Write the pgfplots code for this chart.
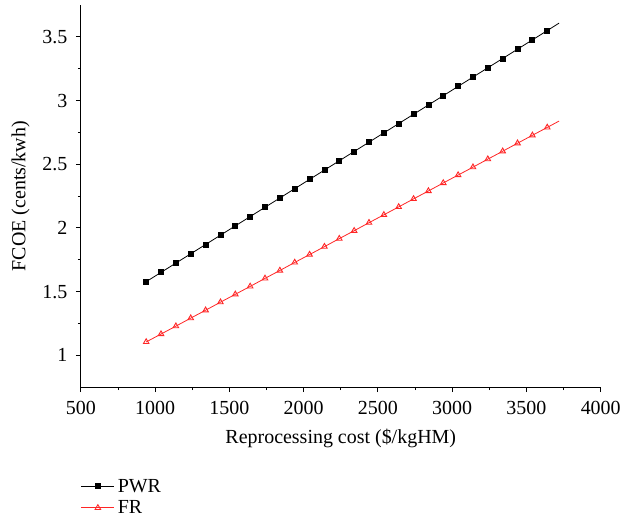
\documentclass[border=0pt]{standalone}
\usepackage{fontspec}
\setmainfont{Liberation Serif}
\usepackage{pgfplots}
\usepackage{pgfplotstable}
\pgfplotsset{compat=1.18}

% reprocessing cost vs FCOE
\pgfplotstableread{
x y
940 1.578
1040 1.651
1140 1.724
1240 1.797
1340 1.870
1440 1.943
1540 2.016
1640 2.089
1740 2.162
1840 2.235
1940 2.308
2040 2.381
2140 2.454
2240 2.527
2340 2.600
2440 2.673
2540 2.746
2640 2.819
2740 2.892
2840 2.965
2940 3.038
3040 3.111
3140 3.184
3240 3.257
3340 3.330
3440 3.403
3540 3.476
3640 3.549
3720 3.608
}\pwr

\pgfplotstableread{
x y
940 1.105
1040 1.167
1140 1.229
1240 1.292
1340 1.354
1440 1.417
1540 1.479
1640 1.541
1740 1.604
1840 1.666
1940 1.729
2040 1.791
2140 1.853
2240 1.916
2340 1.978
2440 2.041
2540 2.103
2640 2.165
2740 2.228
2840 2.290
2940 2.353
3040 2.415
3140 2.477
3240 2.540
3340 2.602
3440 2.665
3540 2.727
3640 2.789
3720 2.839
}\fr

\begin{document}
\begin{tikzpicture}
  \begin{axis}[
      name=main,
      scale only axis,
      width=521pt, height=383pt,
      xmin=500, xmax=4000,
      ymin=0.75, ymax=3.75,
      axis x line*=bottom,
      axis y line*=left,
      axis line style={-, line width=0.9pt},
      xtick={500,1000,...,4000},
      ytick={1,1.5,...,3.5},
      minor x tick num=1,
      minor y tick num=1,
      tick align=outside,
      major tick length=5pt,
      minor tick length=3pt,
      tick style={line width=0.9pt, black},
      /pgf/number format/assume math mode=true,
      /pgf/number format/1000 sep={},
      ticklabel style={font=\fontsize{20}{22}\selectfont},
      yticklabel style={xshift=-5pt},
      xticklabel style={yshift=-6pt},
      label style={font=\fontsize{20}{22}\selectfont},
      xlabel={Reprocessing cost (\$/kgHM)},
      ylabel={FCOE (cents/kwh)},
      xlabel style={yshift=-7pt},
      ylabel style={yshift=6pt},
      legend style={draw=none, fill=none, at={(0,-0.232)}, anchor=north west,
        font=\fontsize{20}{22}\selectfont, row sep=1pt, inner sep=0pt,
        nodes={inner sep=3pt}},
      legend cell align=left,
      legend image code/.code={
        \draw[#1, mark=none] (0cm,0cm) -- (1.16cm,0cm);
        \draw[#1, only marks] plot coordinates {(0.58cm,0cm)};
      },
    ]
    \addplot[black, line width=0.8pt, mark=square*, mark size=2.5pt,
      mark indices={1,...,28}] table {\pwr};
    \addlegendentry{PWR}
    \addplot[red!85!white, line width=0.8pt, mark=triangle, mark size=3.2pt,
      mark options={line width=0.9pt}, mark indices={1,...,28}] table {\fr};
    \addlegendentry{FR}
  \end{axis}
  % page margins as in the reference
  \path (main.south west) ++(-81pt,-136pt) coordinate (bbA);
  \path (main.north east) ++(22pt,5pt) coordinate (bbB);
  \path[use as bounding box] (bbA) rectangle (bbB);
\end{tikzpicture}
\end{document}
